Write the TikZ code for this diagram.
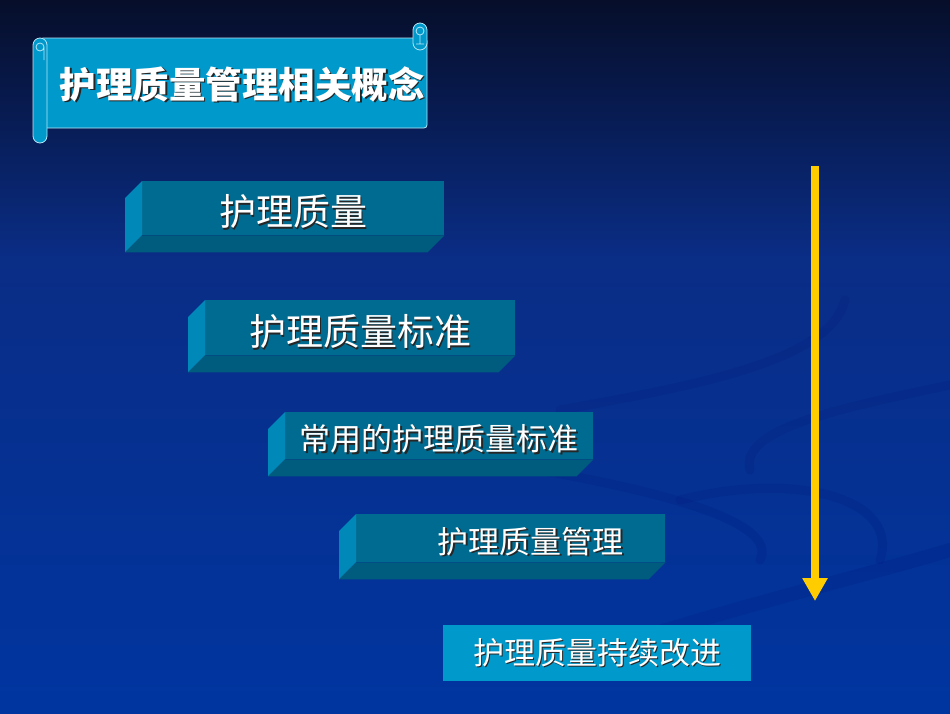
\documentclass[tikz,border=0pt]{standalone}
\usepackage{fontspec}
\newfontfamily\cjk{Noto Sans CJK SC}
\usetikzlibrary{calc,arrows.meta}

\definecolor{skytop}{HTML}{060E2A}
\definecolor{skymid}{HTML}{0A2D86}
\definecolor{skybot}{HTML}{0035A0}
\definecolor{frontc}{HTML}{006B90}
\definecolor{sidec}{HTML}{0088B8}
\definecolor{basec}{HTML}{005C7E}
\definecolor{flatc}{HTML}{0099CC}
\definecolor{scrollc}{HTML}{0099CC}
\definecolor{rimc}{HTML}{B8E6F5}
\definecolor{arrowc}{HTML}{FFCC00}

% white text with a dark drop shadow
\newcommand\shtext[1]{\leavevmode\rlap{\raisebox{-1.6pt}{\hspace{1.6pt}\color{black!85}#1}}#1}
% same, set a little lower in its box
\newcommand\lowtext[1]{\raisebox{-0.48em}[0pt][0pt]{\shtext{#1}}}

\tikzset{
  face/.style={minimum width=#1, inner sep=0pt, anchor=north west, text=white},
  swoosh/.style={draw=black!60!blue, opacity=0.1, line width=9pt, line cap=round}
}

\begin{document}
\begin{tikzpicture}[x=1pt,y=-1pt]
\def \d {17}

% background
\shade[top color=skytop, bottom color=skymid] (0,0) rectangle (950,260);
\shade[top color=skymid, bottom color=skybot] (0,260) rectangle (950,713);
\useasboundingbox (0,0) rectangle (950,713);

% faint swooshes
\draw[swoosh] (560,410) .. controls (700,385) and (830,360) .. (845,300);
\draw[swoosh] (750,470) .. controls (740,430) and (830,410) .. (950,385);
\draw[swoosh] (540,470) .. controls (650,490) and (780,520) .. (760,560);
\draw[swoosh] (680,500) .. controls (800,470) and (900,500) .. (880,560);
\draw[swoosh, line width=14pt] (560,665) .. controls (700,615) and (850,580) .. (950,550);

% scroll banner
\fill[scrollc, draw=rimc, line width=0.8pt, rounded corners=3pt] (40,38) rectangle (427,128);
\fill[scrollc, draw=rimc, line width=0.8pt, rounded corners=7pt] (413,23) rectangle (427,50);
\draw[rimc, line width=0.8pt] (420,31) circle (4) (420,35) -- (420,44) (416,44) -- (424,44);
\fill[scrollc, draw=rimc, line width=0.8pt, rounded corners=7pt] (33,38) rectangle (47,143);
\draw[rimc, line width=0.8pt] (40,47) circle (4) (44,47) -- (44,60);
\node (title) at (242,85) {\cjk\bfseries\fontsize{36.5}{40}\selectfont\color{white}\shtext{护理质量管理相关概念}};

% bevelled boxes
\foreach \x/\y/\w/\h/\fs/\sh/\txt [count=\i] in
  {142/181/302/54/37/0/护理质量,
   205/300/310/55/37/0/护理质量标准,
   285/412/308/47/31/0/常用的护理质量标准,
   356/514/309/48/31/40/护理质量管理}
{
  \node (box\i) [face=\w pt, minimum height=\h pt, fill=frontc] at (\x,\y)
    {\cjk\fontsize{\fs}{\fs}\selectfont\hspace*{\sh pt}\lowtext{\txt}};
  \fill[sidec] (box\i.north west) -- ++(-\d,\d) -- ($(box\i.south west)+(-\d,\d)$)
    -- (box\i.south west) -- cycle;
  \fill[basec] (box\i.south west) -- (box\i.south east) -- ++(-\d,\d)
    -- ($(box\i.south west)+(-\d,\d)$) -- cycle;
}

% flat last box
\node (box5) [face=308pt, minimum height=56pt, fill=flatc] at (443,625)
  {\cjk\fontsize{31}{31}\selectfont\shtext{护理质量持续改进}};

% the downward arrow
\coordinate (atop) at (815,166);
\coordinate (abot) at (815,601);
\draw[arrowc, line width=8pt, -{Triangle[width=24pt,length=23pt]}] (atop) -- (abot);

\end{tikzpicture}
\end{document}
